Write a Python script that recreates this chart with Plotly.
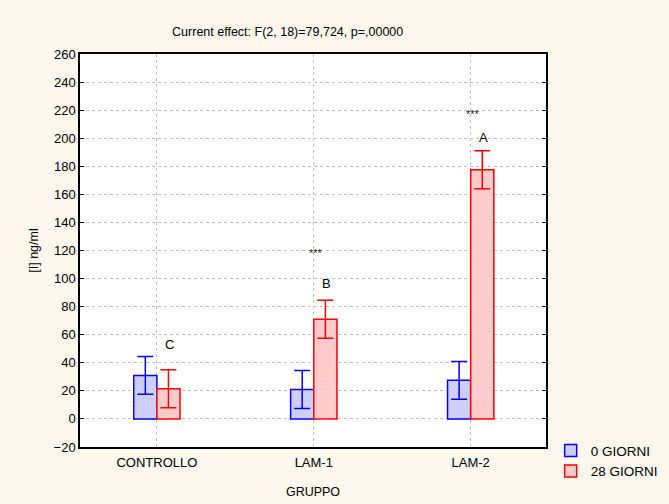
import plotly.graph_objects as go

categories = ["CONTROLLO", "LAM-1", "LAM-2"]
series_names = ["0 GIORNI", "28 GIORNI"]
values_0 = [31.0, 21.0, 27.5]
values_28 = [21.5, 71.0, 177.5]
err_0 = [13.5, 13.5, 13.5]
err_28 = [13.5, 13.5, 13.5]
letters = ["C", "B", "A"]
letter_y = [53, 96.5, 200.5]
star_labels = ["", "***", "***"]
star_y = [None, 118, 217]
y_ticks = list(range(-20, 261, 20))

fig = go.Figure()
fig.add_trace(go.Bar(
    x=categories, y=values_0, name=series_names[0],
    marker=dict(color="#d4d4fb", line=dict(color="#0000ff", width=1.5),
                pattern=dict(shape="x", size=3, solidity=0.25, fgcolor="#9a9af5")),
    error_y=dict(type="data", array=err_0, color="#0000ff", thickness=1.5, width=8),
))
fig.add_trace(go.Bar(
    x=categories, y=values_28, name=series_names[1],
    marker=dict(color="#fdd0d0", line=dict(color="#ff0000", width=1.5),
                pattern=dict(shape="x", size=3, solidity=0.25, fgcolor="#f59a9a")),
    error_y=dict(type="data", array=err_28, color="#ff0000", thickness=1.5, width=8),
))

annotations = []
for i, c in enumerate(categories):
    annotations.append(dict(x=c, y=letter_y[i], text=letters[i], showarrow=False,
                            xref="x", yref="y", xshift=13,
                            font=dict(family="Liberation Sans, Arial", size=13, color="#000")))
    if star_labels[i]:
        annotations.append(dict(x=c, y=star_y[i], text=star_labels[i], showarrow=False,
                                xref="x", yref="y", xshift=2,
                                font=dict(family="Liberation Sans, Arial", size=11, color="#222")))

fig.update_layout(
    width=669, height=504,
    margin=dict(l=80, r=123, t=54, b=57, autoexpand=False),
    paper_bgcolor="#fdf8ed",
    plot_bgcolor="#ffffff",
    barmode="group",
    bargap=0.705, bargroupgap=0,
    font=dict(family="Liberation Sans, Arial", size=13, color="#000"),
    title=dict(text="Current effect: F(2, 18)=79,724, p=,00000", x=0.43, xanchor="center",
               y=0.938, yanchor="middle", font=dict(size=12.5)),
    legend=dict(x=1.01, y=0.03, xanchor="left", yanchor="top", bgcolor="rgba(0,0,0,0)",
                font=dict(size=13.5), traceorder="normal", itemwidth=30, tracegroupgap=0),
    annotations=annotations,
    showlegend=True,
)
fig.update_xaxes(
    range=[-0.49, 2.48], showline=True, linecolor="#000", linewidth=1.5, mirror=True,
    showgrid=True, gridcolor="#c0c0c0", griddash="dot", gridwidth=1,
    ticks="", ticklabelstandoff=3,
    title=dict(text="GRUPPO", font=dict(size=12.5), standoff=18),
    tickfont=dict(size=13), automargin=False,
)
fig.update_yaxes(
    range=[-20, 260], tickvals=y_ticks, showline=True, linecolor="#000", linewidth=1.5,
    mirror="ticks", ticks="inside", ticklen=4, tickcolor="#000",
    showgrid=True, gridcolor="#c0c0c0", griddash="dot", gridwidth=1, zeroline=False,
    title=dict(text="[I] ng/ml", font=dict(size=12.5), standoff=12),
    tickfont=dict(size=13), automargin=False,
)

fig.write_html("out.html")
